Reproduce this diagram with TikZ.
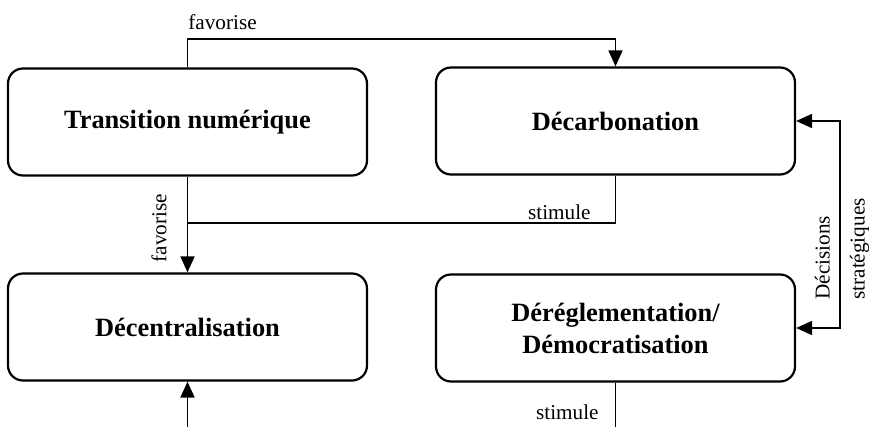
\documentclass[tikz,border=0pt]{standalone}
\usepackage{fontspec}
\setmainfont{Liberation Serif}
\usepackage{tikz}
\usetikzlibrary{arrows.meta,positioning}

\begin{document}
\begin{tikzpicture}[
  x=0.5pt,y=-0.5pt,
  box/.style={draw=black,line width=1.1pt,rounded corners=7.5pt,fill=white,
              minimum width=179.5pt,minimum height=53.5pt,align=center,
              font=\fontsize{13.2}{16}\selectfont\bfseries},
  lab/.style={inner sep=0pt,font=\fontsize{10.6}{17.5}\selectfont},
  ln/.style={-,draw=black,line width=0.9pt},
  ar/.style={-{Triangle[length=8pt,width=7pt]},draw=black,line width=0.9pt},
  arr/.style={{Triangle[length=8pt,width=7pt]}-{Triangle[length=8pt,width=7pt]},
              draw=black,line width=0.9pt}]

\useasboundingbox (0,0) rectangle (869,427);

% ---- the four boxes --------------------------------------------------------
\node[box] (tn) at (187.5,122)   {Transition numérique};
\node[box] (dc) at (615.5,121)   {Décarbonation};
\node[box] (dz) at (187.5,327)   {Décentralisation};
\node[box] (dr) at (615.5,328)   {Déréglementation/\\Démocratisation};

% ---- connectors --------------------------------------------------------------
\coordinate (jn) at (187.5,223);
\coordinate (bz) at (187.5,427);
\coordinate (br) at (615.5,427);

\draw[ar] (tn.north) -- ++(0,-28) -| (dc.north);
\draw[ar] (tn.south) -- (dz.north);
\draw[ln] (dc.south) |- (jn);
\draw[arr] (dc.east) -- ++(44,0) |- (dr.east);
\draw[ar] (bz) -- (dz.south);
\draw[ln] (dr.south) -- (br);

% ---- labels ----------------------------------------------------------------
\node[lab,anchor=west]  (fa1) at (188,22)  {favorise};
\node[lab,rotate=90]    (fa2) at (159,228) {favorise};
\node[lab,anchor=east]  (st1) at (591,212) {stimule};
\node[lab,anchor=east]  (st2) at (599,412) {stimule};
\node[lab,rotate=90,align=left,anchor=west] (ds) at (842,300)
  {Décisions\\stratégiques};
\end{tikzpicture}
\end{document}
